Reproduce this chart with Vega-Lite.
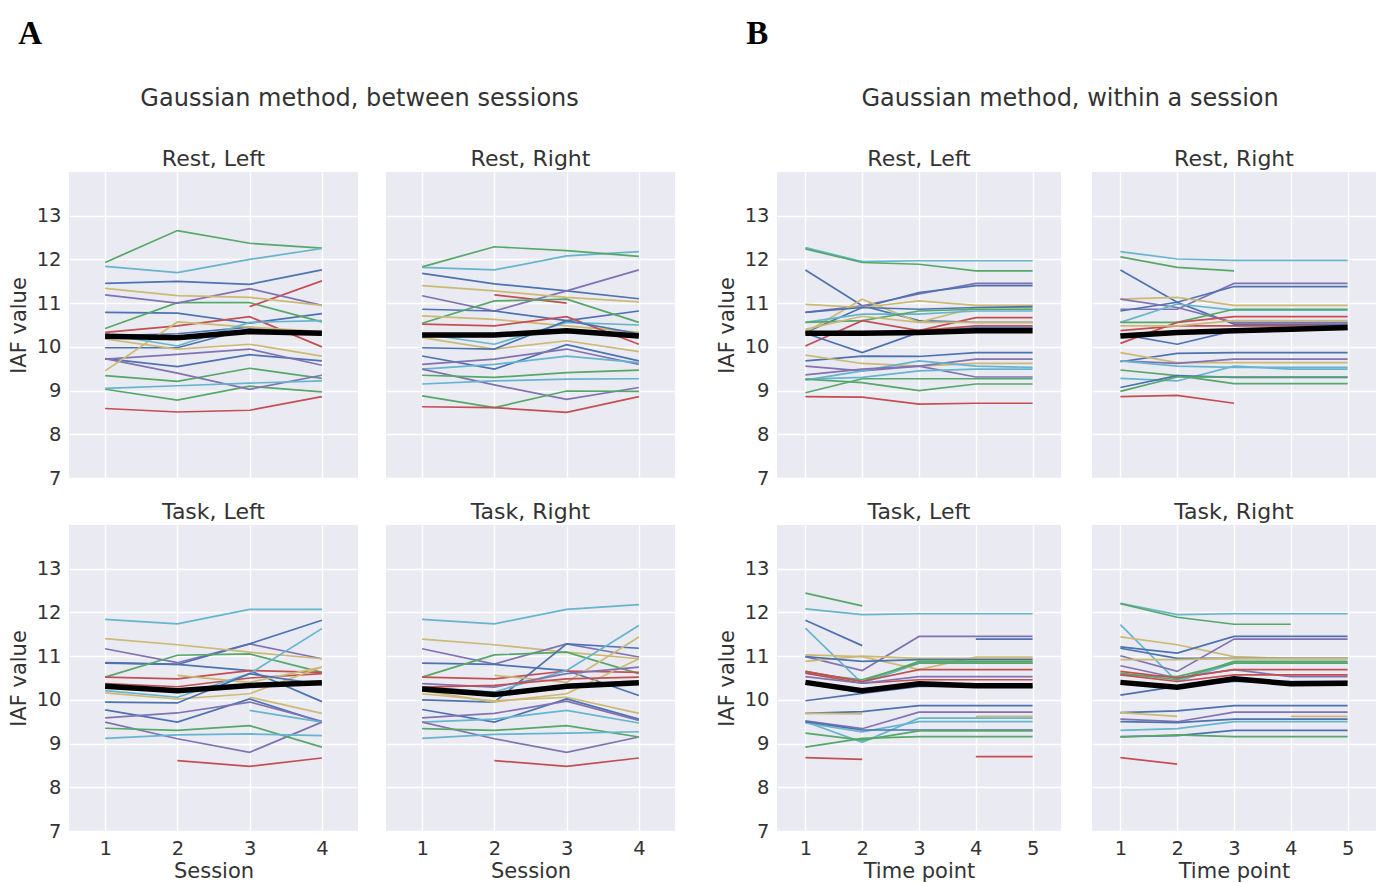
{
  "$schema": "https://vega.github.io/schema/vega-lite/v6.json",
  "background": "white",
  "padding": {"left": 8, "top": 18, "right": 5, "bottom": 0},
  "datasets": {
    "A": [
      {"p":"Rest, Left","s":"s01","1":11.45,"2":11.5,"3":11.43,"4":11.76},
      {"p":"Rest, Left","s":"s07","1":10.79,"2":10.77,"3":10.54,"4":10.76},
      {"p":"Rest, Left","s":"s13","1":10.25,"2":10.3,"3":10.45,"4":10.28},
      {"p":"Rest, Left","s":"s19","1":9.98,"2":9.98,"3":10.42,"4":10.3},
      {"p":"Rest, Left","s":"s25","1":9.73,"2":9.55,"3":9.82,"4":9.68},
      {"p":"Rest, Left","s":"s02","1":11.93,"2":12.66,"3":12.37,"4":12.26},
      {"p":"Rest, Left","s":"s08","1":10.42,"2":11.01,"3":11.01,"4":10.57},
      {"p":"Rest, Left","s":"s14","1":9.34,"2":9.21,"3":9.51,"4":9.28},
      {"p":"Rest, Left","s":"s20","1":9.03,"2":8.78,"3":9.1,"4":8.97},
      {"p":"Rest, Left","s":"s03","1":null,"2":null,"3":10.92,"4":11.51},
      {"p":"Rest, Left","s":"s09","1":10.33,"2":10.48,"3":10.69,"4":10.0},
      {"p":"Rest, Left","s":"s15","1":8.59,"2":8.51,"3":8.55,"4":8.86},
      {"p":"Rest, Left","s":"s04","1":11.19,"2":11.0,"3":11.33,"4":10.95},
      {"p":"Rest, Left","s":"s10","1":9.72,"2":9.83,"3":9.95,"4":9.58},
      {"p":"Rest, Left","s":"s16","1":9.73,"2":9.4,"3":9.03,"4":9.35},
      {"p":"Rest, Left","s":"s05","1":11.34,"2":11.17,"3":11.13,"4":10.95},
      {"p":"Rest, Left","s":"s11","1":9.45,"2":10.57,"3":10.45,"4":10.35},
      {"p":"Rest, Left","s":"s17","1":10.18,"2":9.95,"3":10.06,"4":9.79},
      {"p":"Rest, Left","s":"s06","1":11.84,"2":11.7,"3":12.0,"4":12.25},
      {"p":"Rest, Left","s":"s12","1":10.29,"2":10.02,"3":10.56,"4":10.6},
      {"p":"Rest, Left","s":"s18","1":9.05,"2":9.11,"3":9.17,"4":9.22},
      {"p":"Rest, Left","s":"mean","1":10.24,"2":10.21,"3":10.35,"4":10.31},

      {"p":"Rest, Right","s":"s01","1":11.68,"2":11.44,"3":11.28,"4":11.1},
      {"p":"Rest, Right","s":"s04","1":11.17,"2":10.82,"3":11.28,"4":11.76},
      {"p":"Rest, Right","s":"s07","1":10.86,"2":10.82,"3":10.6,"4":10.82},
      {"p":"Rest, Right","s":"s05","1":11.4,"2":11.28,"3":11.13,"4":11.03},
      {"p":"Rest, Right","s":"s03","1":null,"2":11.19,"3":11.0,"4":null},
      {"p":"Rest, Right","s":"s08","1":10.54,"2":11.05,"3":11.09,"4":10.56},
      {"p":"Rest, Right","s":"s11","1":10.71,"2":10.63,"3":10.48,"4":10.33},
      {"p":"Rest, Right","s":"s09","1":10.52,"2":10.48,"3":10.69,"4":10.06},
      {"p":"Rest, Right","s":"s12","1":10.3,"2":10.06,"3":10.56,"4":10.5},
      {"p":"Rest, Right","s":"s17","1":10.21,"2":9.95,"3":10.14,"4":9.89},
      {"p":"Rest, Right","s":"s13","1":9.98,"2":9.95,"3":10.6,"4":10.3},
      {"p":"Rest, Right","s":"s19","1":9.79,"2":9.49,"3":10.05,"4":9.68},
      {"p":"Rest, Right","s":"s10","1":9.6,"2":9.72,"3":9.95,"4":9.6},
      {"p":"Rest, Right","s":"s18","1":9.49,"2":9.6,"3":9.79,"4":9.64},
      {"p":"Rest, Right","s":"s16","1":9.49,"2":9.13,"3":8.8,"4":9.07},
      {"p":"Rest, Right","s":"s14","1":9.35,"2":9.3,"3":9.41,"4":9.47},
      {"p":"Rest, Right","s":"s24","1":9.15,"2":9.22,"3":9.26,"4":9.27},
      {"p":"Rest, Right","s":"s06","1":11.82,"2":11.76,"3":12.08,"4":12.18},
      {"p":"Rest, Right","s":"s02","1":11.83,"2":12.29,"3":12.2,"4":12.07},
      {"p":"Rest, Right","s":"s20","1":8.88,"2":8.61,"3":8.99,"4":8.98},
      {"p":"Rest, Right","s":"s15","1":8.63,"2":8.61,"3":8.5,"4":8.86},
      {"p":"Rest, Right","s":"mean","1":10.27,"2":10.27,"3":10.37,"4":10.25},

      {"p":"Task, Left","s":"s06","1":11.84,"2":11.74,"3":12.07,"4":12.07},
      {"p":"Task, Left","s":"s01","1":10.84,"2":10.81,"3":10.67,"4":9.96},
      {"p":"Task, Left","s":"s04","1":11.17,"2":10.85,"3":11.28,"4":10.94},
      {"p":"Task, Left","s":"s07","1":10.85,"2":10.81,"3":11.28,"4":11.82},
      {"p":"Task, Left","s":"s05","1":11.4,"2":11.26,"3":11.09,"4":10.94},
      {"p":"Task, Left","s":"s02","1":10.52,"2":11.02,"3":11.05,"4":10.63},
      {"p":"Task, Left","s":"s03","1":10.52,"2":10.48,"3":10.67,"4":10.63},
      {"p":"Task, Left","s":"s09","1":10.37,"2":10.3,"3":10.5,"4":10.6},
      {"p":"Task, Left","s":"s11","1":null,"2":10.56,"3":10.4,"4":10.75},
      {"p":"Task, Left","s":"s12","1":10.21,"2":10.06,"3":10.6,"4":11.63},
      {"p":"Task, Left","s":"s17","1":10.16,"2":10.02,"3":10.14,"4":10.75},
      {"p":"Task, Left","s":"s13","1":9.95,"2":9.93,"3":10.6,"4":10.35},
      {"p":"Task, Left","s":"s19","1":9.77,"2":9.49,"3":10.02,"4":9.49},
      {"p":"Task, Left","s":"s10","1":9.59,"2":9.7,"3":9.95,"4":9.51},
      {"p":"Task, Left","s":"s18","1":null,"2":null,"3":9.76,"4":9.49},
      {"p":"Task, Left","s":"s23","1":null,"2":null,"3":10.06,"4":9.69},
      {"p":"Task, Left","s":"s16","1":9.49,"2":9.11,"3":8.8,"4":9.49},
      {"p":"Task, Left","s":"s08","1":9.35,"2":9.3,"3":9.41,"4":8.92},
      {"p":"Task, Left","s":"s24","1":9.12,"2":9.2,"3":9.22,"4":9.18},
      {"p":"Task, Left","s":"s15","1":null,"2":8.61,"3":8.48,"4":8.67},
      {"p":"Task, Left","s":"mean","1":10.31,"2":10.21,"3":10.33,"4":10.39},

      {"p":"Task, Right","s":"s06","1":11.84,"2":11.74,"3":12.07,"4":12.18},
      {"p":"Task, Right","s":"s05","1":11.39,"2":11.26,"3":11.09,"4":10.94},
      {"p":"Task, Right","s":"s04","1":11.17,"2":10.82,"3":11.28,"4":10.98},
      {"p":"Task, Right","s":"s01","1":10.84,"2":10.81,"3":10.67,"4":10.1},
      {"p":"Task, Right","s":"s02","1":10.52,"2":11.03,"3":11.09,"4":10.6},
      {"p":"Task, Right","s":"s03","1":10.52,"2":10.48,"3":10.66,"4":10.63},
      {"p":"Task, Right","s":"s07","1":10.0,"2":9.95,"3":11.28,"4":11.18},
      {"p":"Task, Right","s":"s12","1":10.29,"2":10.18,"3":10.67,"4":11.7},
      {"p":"Task, Right","s":"s11","1":null,"2":10.56,"3":10.4,"4":11.44},
      {"p":"Task, Right","s":"s17","1":10.21,"2":9.95,"3":10.14,"4":10.94},
      {"p":"Task, Right","s":"s10","1":10.37,"2":10.29,"3":10.6,"4":10.75},
      {"p":"Task, Right","s":"s09","1":10.29,"2":10.33,"3":10.48,"4":10.52},
      {"p":"Task, Right","s":"s23","1":10.14,"2":9.98,"3":10.06,"4":9.69},
      {"p":"Task, Right","s":"s13","1":9.78,"2":9.49,"3":10.02,"4":9.56},
      {"p":"Task, Right","s":"s16","1":9.59,"2":9.69,"3":9.97,"4":9.53},
      {"p":"Task, Right","s":"s18","1":9.49,"2":9.56,"3":9.76,"4":9.47},
      {"p":"Task, Right","s":"s22","1":9.49,"2":9.11,"3":8.8,"4":9.15},
      {"p":"Task, Right","s":"s08","1":9.34,"2":9.3,"3":9.41,"4":9.15},
      {"p":"Task, Right","s":"s24","1":9.12,"2":9.21,"3":9.24,"4":9.27},
      {"p":"Task, Right","s":"s15","1":null,"2":8.61,"3":8.48,"4":8.67},
      {"p":"Task, Right","s":"mean","1":10.25,"2":10.12,"3":10.31,"4":10.39}
    ],
    "B": [
      {"p":"Rest, Left","s":"s06","1":12.27,"2":11.95,"3":11.97,"4":11.97,"5":11.97},
      {"p":"Rest, Left","s":"s02","1":12.24,"2":11.93,"3":11.89,"4":11.74,"5":11.74},
      {"p":"Rest, Left","s":"s01","1":11.76,"2":10.94,"3":10.6,"4":10.56,"5":10.56},
      {"p":"Rest, Left","s":"s04","1":10.79,"2":10.94,"3":11.21,"4":11.45,"5":11.45},
      {"p":"Rest, Left","s":"s07","1":10.33,"2":10.9,"3":11.24,"4":11.4,"5":11.4},
      {"p":"Rest, Left","s":"s05","1":10.97,"2":10.9,"3":11.05,"4":10.95,"5":10.95},
      {"p":"Rest, Left","s":"s11","1":10.33,"2":11.09,"3":10.56,"4":10.9,"5":10.9},
      {"p":"Rest, Left","s":"s13","1":10.79,"2":10.9,"3":10.86,"4":10.9,"5":10.92},
      {"p":"Rest, Left","s":"s12","1":10.56,"2":10.75,"3":10.75,"4":10.82,"5":10.82},
      {"p":"Rest, Left","s":"s08","1":10.56,"2":10.6,"3":10.82,"4":10.86,"5":10.86},
      {"p":"Rest, Left","s":"s03","1":10.02,"2":10.6,"3":10.37,"4":10.67,"5":10.67},
      {"p":"Rest, Left","s":"s09","1":10.33,"2":10.33,"3":10.37,"4":10.48,"5":10.48},
      {"p":"Rest, Left","s":"s17","1":10.4,"2":10.7,"3":10.56,"4":10.56,"5":10.56},
      {"p":"Rest, Left","s":"s19","1":10.31,"2":9.87,"3":10.33,"4":10.44,"5":10.44},
      {"p":"Rest, Left","s":"s25","1":9.68,"2":9.79,"3":9.78,"4":9.87,"5":9.87},
      {"p":"Rest, Left","s":"s23","1":9.81,"2":9.62,"3":9.56,"4":9.62,"5":9.62},
      {"p":"Rest, Left","s":"s10","1":9.56,"2":9.45,"3":9.56,"4":9.72,"5":9.72},
      {"p":"Rest, Left","s":"s18","1":9.24,"2":9.45,"3":9.68,"4":9.56,"5":9.53},
      {"p":"Rest, Left","s":"s16","1":9.36,"2":9.49,"3":9.56,"4":9.31,"5":9.31},
      {"p":"Rest, Left","s":"s24","1":9.26,"2":9.3,"3":9.45,"4":9.49,"5":9.49},
      {"p":"Rest, Left","s":"s14","1":9.26,"2":9.18,"3":9.0,"4":9.15,"5":9.15},
      {"p":"Rest, Left","s":"s20","1":8.95,"2":9.27,"3":9.27,"4":9.27,"5":9.27},
      {"p":"Rest, Left","s":"s15","1":8.86,"2":8.85,"3":8.69,"4":8.71,"5":8.71},
      {"p":"Rest, Left","s":"mean","1":10.31,"2":10.31,"3":10.33,"4":10.37,"5":10.37},

      {"p":"Rest, Right","s":"s06","1":12.18,"2":12.01,"3":11.98,"4":11.98,"5":11.98},
      {"p":"Rest, Right","s":"s02","1":12.06,"2":11.82,"3":11.74,"4":null,"5":null},
      {"p":"Rest, Right","s":"s01","1":11.76,"2":11.02,"3":10.52,"4":10.52,"5":10.52},
      {"p":"Rest, Right","s":"s04","1":10.86,"2":10.86,"3":11.45,"4":11.45,"5":11.45},
      {"p":"Rest, Right","s":"s07","1":10.82,"2":11.02,"3":11.38,"4":11.38,"5":11.38},
      {"p":"Rest, Right","s":"s05","1":11.09,"2":11.13,"3":10.95,"4":10.95,"5":10.95},
      {"p":"Rest, Right","s":"s10","1":11.09,"2":10.9,"3":10.56,"4":10.56,"5":10.56},
      {"p":"Rest, Right","s":"s12","1":10.56,"2":10.98,"3":10.84,"4":10.84,"5":10.84},
      {"p":"Rest, Right","s":"s08","1":10.56,"2":10.56,"3":10.86,"4":10.86,"5":10.86},
      {"p":"Rest, Right","s":"s03","1":10.08,"2":10.56,"3":10.69,"4":10.69,"5":10.69},
      {"p":"Rest, Right","s":"s09","1":10.37,"2":10.48,"3":10.48,"4":10.48,"5":10.48},
      {"p":"Rest, Right","s":"s11","1":10.48,"2":10.48,"3":10.6,"4":10.6,"5":10.6},
      {"p":"Rest, Right","s":"s13","1":10.29,"2":10.06,"3":10.37,"4":10.4,"5":10.4},
      {"p":"Rest, Right","s":"s19","1":9.66,"2":9.85,"3":9.87,"4":9.87,"5":9.87},
      {"p":"Rest, Right","s":"s17","1":9.87,"2":9.64,"3":9.64,"4":9.64,"5":9.64},
      {"p":"Rest, Right","s":"s16","1":9.68,"2":9.62,"3":9.72,"4":9.72,"5":9.72},
      {"p":"Rest, Right","s":"s18","1":9.68,"2":9.56,"3":9.53,"4":9.53,"5":9.53},
      {"p":"Rest, Right","s":"s24","1":9.28,"2":9.22,"3":9.56,"4":9.49,"5":9.49},
      {"p":"Rest, Right","s":"s14","1":9.47,"2":9.34,"3":9.16,"4":9.16,"5":9.16},
      {"p":"Rest, Right","s":"s25","1":9.07,"2":9.34,"3":9.3,"4":9.3,"5":9.3},
      {"p":"Rest, Right","s":"s20","1":8.98,"2":9.31,"3":9.31,"4":9.31,"5":9.31},
      {"p":"Rest, Right","s":"s15","1":8.86,"2":8.89,"3":8.71,"4":null,"5":null},
      {"p":"Rest, Right","s":"mean","1":10.25,"2":10.33,"3":10.37,"4":10.4,"5":10.44},

      {"p":"Task, Left","s":"s02","1":12.44,"2":12.15,"3":null,"4":null,"5":null},
      {"p":"Task, Left","s":"s06","1":12.08,"2":11.95,"3":11.97,"4":11.97,"5":11.97},
      {"p":"Task, Left","s":"s01","1":11.82,"2":11.24,"3":null,"4":null,"5":null},
      {"p":"Task, Left","s":"s04","1":10.99,"2":10.67,"3":11.45,"4":11.45,"5":11.45},
      {"p":"Task, Left","s":"s07","1":null,"2":null,"3":null,"4":11.39,"5":11.39},
      {"p":"Task, Left","s":"s12","1":11.64,"2":10.38,"3":10.84,"4":10.84,"5":10.84},
      {"p":"Task, Left","s":"s05","1":11.03,"2":10.99,"3":10.69,"4":10.98,"5":10.98},
      {"p":"Task, Left","s":"s11","1":10.88,"2":11.0,"3":10.95,"4":10.95,"5":10.95},
      {"p":"Task, Left","s":"s13","1":10.99,"2":10.88,"3":10.92,"4":10.92,"5":10.92},
      {"p":"Task, Left","s":"s08","1":10.65,"2":10.42,"3":10.88,"4":10.88,"5":10.88},
      {"p":"Task, Left","s":"s14","1":10.61,"2":10.46,"3":10.84,"4":10.84,"5":10.84},
      {"p":"Task, Left","s":"s03","1":10.65,"2":10.42,"3":10.69,"4":10.69,"5":10.69},
      {"p":"Task, Left","s":"s09","1":10.61,"2":10.38,"3":10.46,"4":10.46,"5":10.46},
      {"p":"Task, Left","s":"s10","1":10.53,"2":10.38,"3":10.53,"4":10.53,"5":10.53},
      {"p":"Task, Left","s":"s19","1":9.98,"2":10.15,"3":10.31,"4":10.31,"5":10.31},
      {"p":"Task, Left","s":"s25","1":9.69,"2":9.73,"3":9.87,"4":9.87,"5":9.87},
      {"p":"Task, Left","s":"s17","1":9.69,"2":9.68,"3":null,"4":9.62,"5":9.62},
      {"p":"Task, Left","s":"s16","1":9.52,"2":9.34,"3":9.72,"4":9.72,"5":9.72},
      {"p":"Task, Left","s":"s18","1":9.5,"2":9.03,"3":9.58,"4":9.58,"5":9.58},
      {"p":"Task, Left","s":"s24","1":9.47,"2":9.27,"3":9.5,"4":9.5,"5":9.5},
      {"p":"Task, Left","s":"s31","1":9.5,"2":9.31,"3":9.31,"4":9.31,"5":9.31},
      {"p":"Task, Left","s":"s20","1":9.24,"2":9.08,"3":9.29,"4":9.29,"5":9.29},
      {"p":"Task, Left","s":"s26","1":8.92,"2":9.12,"3":9.16,"4":9.16,"5":9.16},
      {"p":"Task, Left","s":"s15","1":8.68,"2":8.64,"3":null,"4":8.7,"5":8.7},
      {"p":"Task, Left","s":"mean","1":10.4,"2":10.21,"3":10.37,"4":10.32,"5":10.32},

      {"p":"Task, Right","s":"s06","1":12.21,"2":11.95,"3":11.97,"4":11.97,"5":11.97},
      {"p":"Task, Right","s":"s02","1":12.2,"2":11.89,"3":11.73,"4":11.73,"5":null},
      {"p":"Task, Right","s":"s12","1":11.72,"2":10.42,"3":10.84,"4":10.84,"5":10.84},
      {"p":"Task, Right","s":"s05","1":11.44,"2":11.26,"3":10.99,"4":10.95,"5":10.95},
      {"p":"Task, Right","s":"s01","1":11.21,"2":11.07,"3":11.45,"4":11.45,"5":11.45},
      {"p":"Task, Right","s":"s07","1":11.18,"2":10.95,"3":10.95,"4":10.95,"5":10.95},
      {"p":"Task, Right","s":"s04","1":11.01,"2":10.65,"3":11.39,"4":11.39,"5":11.39},
      {"p":"Task, Right","s":"s10","1":10.78,"2":10.5,"3":10.69,"4":10.53,"5":10.53},
      {"p":"Task, Right","s":"s11","1":10.92,"2":10.92,"3":10.95,"4":10.95,"5":10.95},
      {"p":"Task, Right","s":"s08","1":10.61,"2":10.46,"3":10.88,"4":10.88,"5":10.88},
      {"p":"Task, Right","s":"s14","1":10.57,"2":10.53,"3":10.84,"4":10.84,"5":10.84},
      {"p":"Task, Right","s":"s03","1":10.65,"2":10.5,"3":10.69,"4":10.69,"5":10.69},
      {"p":"Task, Right","s":"s09","1":10.57,"2":10.42,"3":10.57,"4":10.57,"5":10.57},
      {"p":"Task, Right","s":"s13","1":10.11,"2":10.31,"3":10.42,"4":10.42,"5":10.42},
      {"p":"Task, Right","s":"s19","1":9.71,"2":9.75,"3":9.87,"4":9.87,"5":9.87},
      {"p":"Task, Right","s":"s17","1":9.71,"2":9.62,"3":null,"4":9.62,"5":9.62},
      {"p":"Task, Right","s":"s16","1":9.56,"2":9.5,"3":9.72,"4":9.72,"5":9.72},
      {"p":"Task, Right","s":"s25","1":9.5,"2":9.48,"3":9.56,"4":9.56,"5":9.56},
      {"p":"Task, Right","s":"s18","1":9.3,"2":9.34,"3":9.5,"4":9.5,"5":9.5},
      {"p":"Task, Right","s":"s31","1":9.16,"2":9.18,"3":9.3,"4":9.3,"5":9.3},
      {"p":"Task, Right","s":"s20","1":9.15,"2":9.2,"3":9.16,"4":9.16,"5":9.16},
      {"p":"Task, Right","s":"s15","1":8.68,"2":8.53,"3":null,"4":null,"5":null},
      {"p":"Task, Right","s":"mean","1":10.4,"2":10.29,"3":10.48,"4":10.37,"5":10.38}
    ]
  },
  "hconcat": [
    {
      "title": {"text": "A", "anchor": "start", "font": "Liberation Serif", "fontSize": 33, "fontWeight": "bold", "color": "black", "offset": 36, "dx": 10},
      "vconcat": [
        {
          "data": {"name": "A"},
          "transform": [{"fold": ["1", "2", "3", "4"], "as": ["t", "v"]}],
          "title": {"text": "Gaussian method, between sessions", "fontSize": 24, "fontWeight": "normal", "color": "#333333", "offset": 37, "anchor": "middle", "dx": 18},
          "facet": {"field": "p", "type": "nominal", "header": {"title": null}},
          "columns": 2,
          "spacing": {"row": 23, "column": 28},
          "spec": {
            "width": 289,
            "height": 306,
            "layer": [
              {
                "transform": [{"filter": "datum.s !== 'mean'"}],
                "mark": {"type": "line", "strokeWidth": 1.7, "invalid": "break-paths-show-domains"},
                "encoding": {
                  "x": {"field": "t", "type": "ordinal", "scale": {"type": "point", "padding": 0.5}, "axis": {"title": "Session", "labelAngle": 0, "grid": true, "titlePadding": 3}},
                  "y": {"field": "v", "type": "quantitative", "scale": {"domain": [7, 14], "nice": false, "zero": false}, "axis": {"title": "IAF value", "values": [7, 8, 9, 10, 11, 12, 13], "titlePadding": 7}},
                  "color": {"field": "s", "type": "nominal", "legend": null,
                    "scale": {"domain": ["s01","s02","s03","s04","s05","s06","s07","s08","s09","s10","s11","s12","s13","s14","s15","s16","s17","s18","s19","s20","s21","s22","s23","s24","s25","s26","s27","s28","s29","s30","s31","s32","s33","s34","s35","s36"],
                      "range": ["#4C72B0","#55A868","#C44E52","#8172B2","#CCB974","#64B5CD"]}}
                }
              },
              {
                "transform": [{"filter": "datum.s === 'mean'"}],
                "mark": {"type": "line", "strokeWidth": 5.5, "color": "black"},
                "encoding": {
                  "x": {"field": "t", "type": "ordinal"},
                  "y": {"field": "v", "type": "quantitative"}
                }
              }
            ]
          }
        }
      ]
    },
    {
      "title": {"text": "B", "anchor": "start", "font": "Liberation Serif", "fontSize": 33, "fontWeight": "bold", "color": "black", "offset": 36, "dx": 30},
      "vconcat": [
        {
          "data": {"name": "B"},
          "transform": [{"fold": ["1", "2", "3", "4", "5"], "as": ["t", "v"]}],
          "title": {"text": "Gaussian method, within a session", "fontSize": 24, "fontWeight": "normal", "color": "#333333", "offset": 37, "anchor": "middle", "dx": 24},
          "facet": {"field": "p", "type": "nominal", "header": {"title": null}},
          "columns": 2,
          "spacing": {"row": 23, "column": 31},
          "spec": {
            "width": 284,
            "height": 306,
            "layer": [
              {
                "transform": [{"filter": "datum.s !== 'mean'"}],
                "mark": {"type": "line", "strokeWidth": 1.7, "invalid": "break-paths-show-domains"},
                "encoding": {
                  "x": {"field": "t", "type": "ordinal", "scale": {"type": "point", "padding": 0.5}, "axis": {"title": "Time point", "labelAngle": 0, "grid": true, "titlePadding": 3}},
                  "y": {"field": "v", "type": "quantitative", "scale": {"domain": [7, 14], "nice": false, "zero": false}, "axis": {"title": "IAF value", "values": [7, 8, 9, 10, 11, 12, 13], "titlePadding": 7}},
                  "color": {"field": "s", "type": "nominal", "legend": null,
                    "scale": {"domain": ["s01","s02","s03","s04","s05","s06","s07","s08","s09","s10","s11","s12","s13","s14","s15","s16","s17","s18","s19","s20","s21","s22","s23","s24","s25","s26","s27","s28","s29","s30","s31","s32","s33","s34","s35","s36"],
                      "range": ["#4C72B0","#55A868","#C44E52","#8172B2","#CCB974","#64B5CD"]}}
                }
              },
              {
                "transform": [{"filter": "datum.s === 'mean'"}],
                "mark": {"type": "line", "strokeWidth": 5.5, "color": "black"},
                "encoding": {
                  "x": {"field": "t", "type": "ordinal"},
                  "y": {"field": "v", "type": "quantitative"}
                }
              }
            ]
          }
        }
      ]
    }
  ],
  "spacing": 41,
  "config": {
    "font": "DejaVu Sans",
    "view": {"fill": "#EAEAF2", "stroke": null},
    "axis": {"domain": false, "ticks": false, "grid": true, "gridColor": "#FFFFFF", "gridWidth": 1.4, "labelFontSize": 19.5, "labelColor": "#333333", "titleFontSize": 21, "titleFontWeight": "normal", "titleColor": "#333333", "labelPadding": 8},
    "header": {"labelFontSize": 22, "labelColor": "#333333", "labelPadding": 1},
    "title": {"color": "#333333"}
  }
}
